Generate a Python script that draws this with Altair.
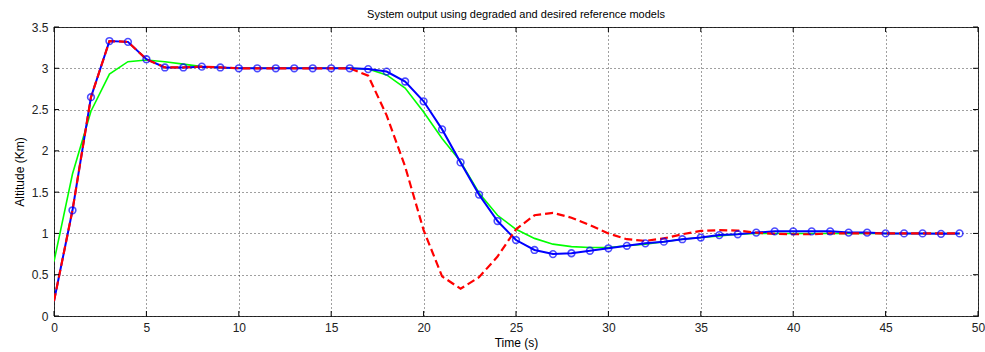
import altair as alt
import pandas as pd

t = list(range(50))
blue = [0.18, 1.28, 2.65, 3.33, 3.32, 3.11, 3.01, 3.01, 3.02, 3.01,
        3.0, 3.0, 3.0, 3.0, 3.0, 3.0, 3.0, 2.99, 2.96, 2.84,
        2.60, 2.26, 1.86, 1.47, 1.15, 0.92, 0.80, 0.75, 0.76, 0.79,
        0.82, 0.85, 0.88, 0.90, 0.93, 0.95, 0.98, 0.99, 1.01, 1.025,
        1.025, 1.025, 1.025, 1.01, 1.01, 1.0, 1.0, 1.0, 0.995, 1.0]
red = [0.18, 1.28, 2.65, 3.33, 3.32, 3.11, 3.01, 3.01, 3.02, 3.01,
       3.0, 3.0, 3.0, 3.0, 3.0, 3.0, 3.0, 2.91, 2.43, 1.81,
       1.04, 0.48, 0.33, 0.47, 0.72, 1.05, 1.22, 1.25, 1.19, 1.10,
       1.00, 0.93, 0.91, 0.94, 0.99, 1.03, 1.04, 1.035, 1.01, 0.995,
       0.99, 0.99, 1.0, 1.0, 1.0, 1.0, 1.0, 1.0, 1.0, 1.0]
green = [0.66, 1.72, 2.48, 2.93, 3.08, 3.10, 3.08, 3.05, 3.02, 3.01,
         3.0, 3.0, 3.0, 3.0, 3.0, 3.0, 3.0, 2.99, 2.92, 2.76,
         2.47, 2.15, 1.87, 1.49, 1.22, 1.05, 0.94, 0.87, 0.84, 0.83,
         0.83, 0.85, 0.87, 0.90, 0.93, 0.95, 0.97, 0.99, 1.0, 1.0,
         1.0, 1.0, 1.0, 1.0, 1.0, 1.0, 1.0, 1.0, 1.0, 1.0]
x_ticks = [0, 5, 10, 15, 20, 25, 30, 35, 40, 45, 50]
y_ticks = [0, 0.5, 1, 1.5, 2, 2.5, 3, 3.5]

df = pd.DataFrame({"t": t, "blue": blue, "red": red, "green": green})
xt = pd.DataFrame({"v": x_ticks})
yt = pd.DataFrame({"v": y_ticks})

FONT = "Liberation Sans"
W, H = 924, 289

xs = alt.Scale(domain=[0, 50], nice=False, zero=False)
ys = alt.Scale(domain=[0, 3.5], nice=False, zero=False)

xaxis = alt.Axis(values=x_ticks, title="Time (s)", grid=True, gridColor="#000000",
                 gridDash=[1, 3], gridOpacity=0.75, ticks=False, domain=False,
                 labelPadding=6, labelFontSize=12, labelFont=FONT, labelColor="#222",
                 titleFont=FONT, titleFontSize=12, titleFontWeight="normal",
                 titleColor="#000", titlePadding=4, labelFlush=False, format="~g")
yaxis = alt.Axis(values=y_ticks, title="Altitude (Km)", grid=True, gridColor="#000000",
                 gridDash=[1, 3], gridOpacity=0.75, ticks=False, domain=False,
                 labelPadding=6, labelFontSize=12, labelFont=FONT, labelColor="#222",
                 titleFont=FONT, titleFontSize=12, titleFontWeight="normal",
                 titleColor="#000", titlePadding=5, labelFlush=False, format="~g")

base = alt.Chart(df)

green_line = base.mark_line(color="#00FF00", strokeWidth=1.6, clip=True).encode(
    x=alt.X("t:Q", scale=xs, axis=xaxis), y=alt.Y("green:Q", scale=ys, axis=yaxis))
blue_line = base.mark_line(color="#0000FF", strokeWidth=2, clip=True).encode(
    x=alt.X("t:Q", scale=xs), y=alt.Y("blue:Q", scale=ys))
red_line = base.mark_line(color="#FF0000", strokeWidth=2.2, strokeDash=[8, 4], clip=True).encode(
    x=alt.X("t:Q", scale=xs), y=alt.Y("red:Q", scale=ys))
blue_pts = base.transform_filter("datum.t >= 1").mark_point(
    shape="circle", filled=False, color="#0000FF", size=45, strokeWidth=1.6, clip=True).encode(
    x=alt.X("t:Q", scale=xs), y=alt.Y("blue:Q", scale=ys))

tk = 5
xt_bot = alt.Chart(xt).mark_rule(color="#000", strokeWidth=1).encode(
    x=alt.X("v:Q", scale=xs), y=alt.value(H), y2=alt.value(H - tk))
xt_top = alt.Chart(xt).mark_rule(color="#000", strokeWidth=1).encode(
    x=alt.X("v:Q", scale=xs), y=alt.value(0), y2=alt.value(tk))
yt_l = alt.Chart(yt).mark_rule(color="#000", strokeWidth=1).encode(
    y=alt.Y("v:Q", scale=ys), x=alt.value(0), x2=alt.value(tk))
yt_r = alt.Chart(yt).mark_rule(color="#000", strokeWidth=1).encode(
    y=alt.Y("v:Q", scale=ys), x=alt.value(W), x2=alt.value(W - tk))

chart = alt.layer(green_line, blue_line, red_line, blue_pts,
                  xt_bot, xt_top, yt_l, yt_r).properties(
    width=W, height=H,
    title=alt.TitleParams("System output using degraded and desired reference models",
                          font=FONT, fontSize=11, fontWeight="normal", color="#000",
                          anchor="middle", offset=1),
    padding={"left": 54, "top": 27, "right": 7, "bottom": 36},
    autosize="none",
    background="white",
).configure_view(stroke="#333", strokeWidth=1)

chart.save("out.html", embed_options={"renderer": "svg", "actions": False})
